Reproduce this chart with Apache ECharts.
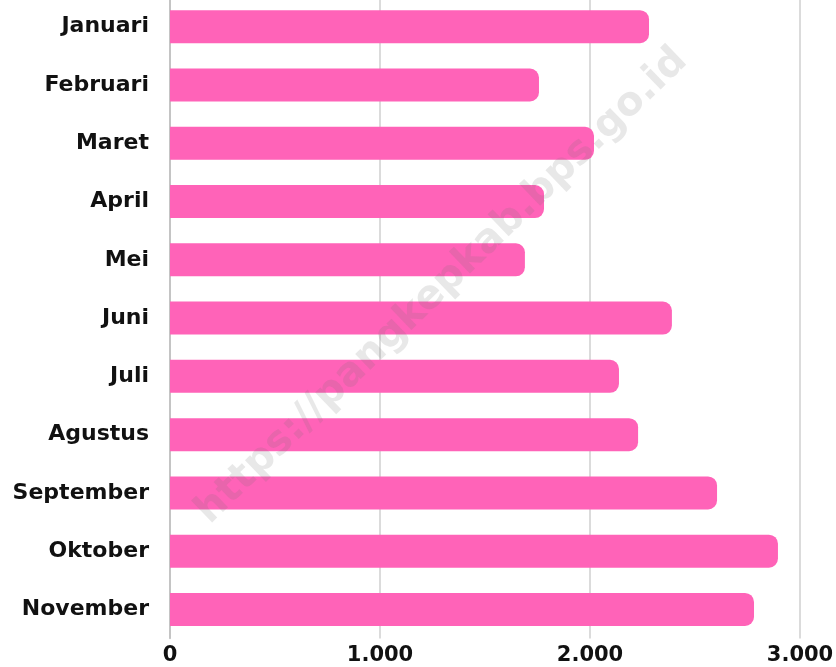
<!DOCTYPE html>
<html>
<head>
<meta charset="utf-8">
<script src="https://cdn.jsdelivr.net/npm/echarts@6/dist/echarts.min.js"></script>
<style>
  html, body { margin: 0; padding: 0; background: #fff; }
  #chart { width: 836px; height: 667px; }
</style>
</head>
<body>
<div id="chart"></div>
<script>
const months = ['Januari', 'Februari', 'Maret', 'April', 'Mei', 'Juni', 'Juli', 'Agustus', 'September', 'Oktober', 'November']
const values = [2281, 1757, 2019, 1781, 1690, 2390, 2138, 2229, 2605, 2895, 2781]
const xTicks = [0, 1000, 2000, 3000]

const chartDom = document.getElementById('chart')
const chart = echarts.init(chartDom)

// 1000 -> "1.000"
function fmt(v) {
  return String(v).replace(/\B(?=(\d{3})+(?!\d))/g, '.')
}

const option = {
  animation: false,
  textStyle: { fontFamily: 'DejaVu Sans' },
  grid: {
    left: 170, right: 36, top: -2.4, bottom: 28.4,
    containLabel: false,
    outerBoundsMode: 'none'
  },
  xAxis: {
    type: 'value',
    min: xTicks[0],
    max: xTicks[xTicks.length - 1],
    interval: 1000,
    axisLine: { show: false },
    axisTick: { show: false },
    splitLine: { lineStyle: { color: '#cfcfcf', width: 1.5 } },
    axisLabel: {
      margin: 6,
      color: '#111',
      fontSize: 21,
      fontWeight: 'bold',
      formatter: fmt
    }
  },
  yAxis: {
    type: 'category',
    inverse: true,
    data: months,
    axisLine: { show: true, lineStyle: { color: '#bdbdbd', width: 1.5 } },
    axisTick: { show: false },
    axisLabel: {
      margin: 21,
      color: '#111',
      fontSize: 22,
      fontWeight: 'bold'
    }
  },
  series: [{
    type: 'bar',
    data: values,
    barWidth: 33,
    itemStyle: { color: '#ff63b8', borderRadius: [0, 9, 9, 0] }
  }],
  graphic: [{
    type: 'text',
    x: 442,
    y: 286,
    rotation: Math.PI * 44 / 180,
    z: 100,
    style: {
      text: 'https://pangkepkab.bps.go.id',
      x: 0,
      y: 0,
      align: 'center',
      verticalAlign: 'middle',
      fill: 'rgba(110,110,110,0.16)',
      font: 'bold 40px "DejaVu Sans"'
    }
  }]
}

chart.setOption(option)
</script>
</body>
</html>
